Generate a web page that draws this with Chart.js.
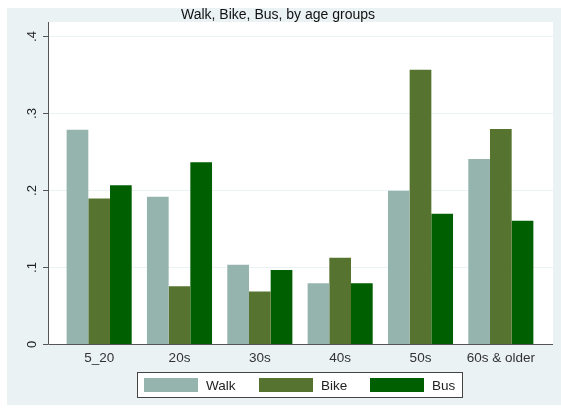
<!DOCTYPE html>
<html>
<head>
<meta charset="utf-8">
<script src="https://cdn.jsdelivr.net/npm/chart.js@4"></script>
<style>
  html, body { margin:0; padding:0; background:#fff; }
  #wrap { width:561px; height:411px; }
</style>
</head>
<body>
<div id="wrap"><canvas id="chart" width="561" height="411"></canvas></div>
<script>
// --- Data ---
const categories = ['5_20', '20s', '30s', '40s', '50s', '60s & older'];
const walk = [0.278, 0.191, 0.103, 0.079, 0.199, 0.240];
const bike = [0.189, 0.075, 0.068, 0.112, 0.356, 0.279];
const bus  = [0.206, 0.236, 0.096, 0.079, 0.169, 0.160];
const yTicks = [0, 0.1, 0.2, 0.3, 0.4];
const yTickLabels = ['0', '.1', '.2', '.3', '.4'];

const FONT = '"Liberation Sans", Arial, sans-serif';
const BG = '#eaf2f3';

// --- Stata-like frame, ticks, labels and legend ---
const stataFrame = {
  id: 'stataFrame',
  beforeDraw(chart){
    const c = chart.ctx, y = chart.scales.y;
    const L = 48, R = 553, T = 22, B = y.getPixelForValue(0);
    c.save();
    c.fillStyle = '#fff';
    c.fillRect(0, 0, chart.width, chart.height);
    c.fillStyle = BG;
    c.fillRect(7, 8, chart.width - 7, 397);
    c.fillStyle = '#fff';
    c.fillRect(L, T, R - L, B - T);
    // grid lines
    c.strokeStyle = BG;
    c.lineWidth = 1;
    yTicks.forEach(v=>{
      if(v === 0) return;
      const py = Math.round(y.getPixelForValue(v)) + 0.5;
      c.beginPath(); c.moveTo(L, py); c.lineTo(R, py); c.stroke();
    });
    c.restore();
  },
  afterDraw(chart){
    const c = chart.ctx, y = chart.scales.y, x = chart.scales.x;
    const L = 48, R = 553, T = 22, B = Math.round(y.getPixelForValue(0));
    c.save();
    // axes
    c.strokeStyle = '#555';
    c.lineWidth = 1;
    c.beginPath();
    c.moveTo(L + 0.5, T); c.lineTo(L + 0.5, B + 0.5); c.lineTo(R, B + 0.5);
    c.stroke();
    // y ticks and rotated labels
    c.fillStyle = '#222';
    c.font = '13px ' + FONT;
    c.textAlign = 'center';
    c.textBaseline = 'middle';
    yTicks.forEach((v,i)=>{
      const py = Math.round(y.getPixelForValue(v)) + 0.5;
      c.beginPath(); c.moveTo(43, py); c.lineTo(L, py); c.stroke();
      c.save();
      c.translate(32, py);
      c.rotate(-Math.PI/2);
      c.fillText(yTickLabels[i], 0, 0);
      c.restore();
    });
    // x labels
    c.fillStyle = '#333';
    c.font = '13.5px ' + FONT;
    categories.forEach((lab,i)=>{
      c.fillText(lab, x.getPixelForValue(i), 358);
    });
    // title
    c.fillStyle = '#111';
    c.font = '14px ' + FONT;
    c.fillText('Walk, Bike, Bus, by age groups', 278, 15);
    // legend
    c.fillStyle = '#fff';
    c.fillRect(137.5, 372.5, 325, 25);
    c.strokeStyle = '#444';
    c.strokeRect(137.5, 372.5, 325, 25);
    const xs = [144, 259, 370];
    c.textAlign = 'left';
    c.font = '13.5px ' + FONT;
    chart.data.datasets.forEach((ds,i)=>{
      c.fillStyle = ds.backgroundColor;
      c.fillRect(xs[i], 378, 54, 14);
      c.fillStyle = '#222';
      c.fillText(ds.label, xs[i] + 62, 386);
    });
    c.restore();
  }
};

// --- Chart.js ---
const ctx = document.getElementById('chart').getContext('2d');
const chart = new Chart(ctx, {
  type: 'bar',
  data: {
    labels: categories,
    datasets: [
      {label:'Walk', data: walk, backgroundColor:'#96b4ae'},
      {label:'Bike', data: bike, backgroundColor:'#56742f'},
      {label:'Bus',  data: bus,  backgroundColor:'#005f00'}
    ]
  },
  options: {
    responsive: false,
    animation: false,
    layout: { padding: { left: 59, right: 20, top: 22, bottom: 67 } },
    datasets: { bar: { categoryPercentage: 0.81, barPercentage: 1.0, borderWidth: 0 } },
    plugins: { legend: { display: false }, title: { display: false }, tooltip: { enabled: false } },
    scales: {
      x: { display: false },
      y: { display: false, min: 0, max: 0.418 }
    }
  },
  plugins: [stataFrame]
});
</script>
</body>
</html>
